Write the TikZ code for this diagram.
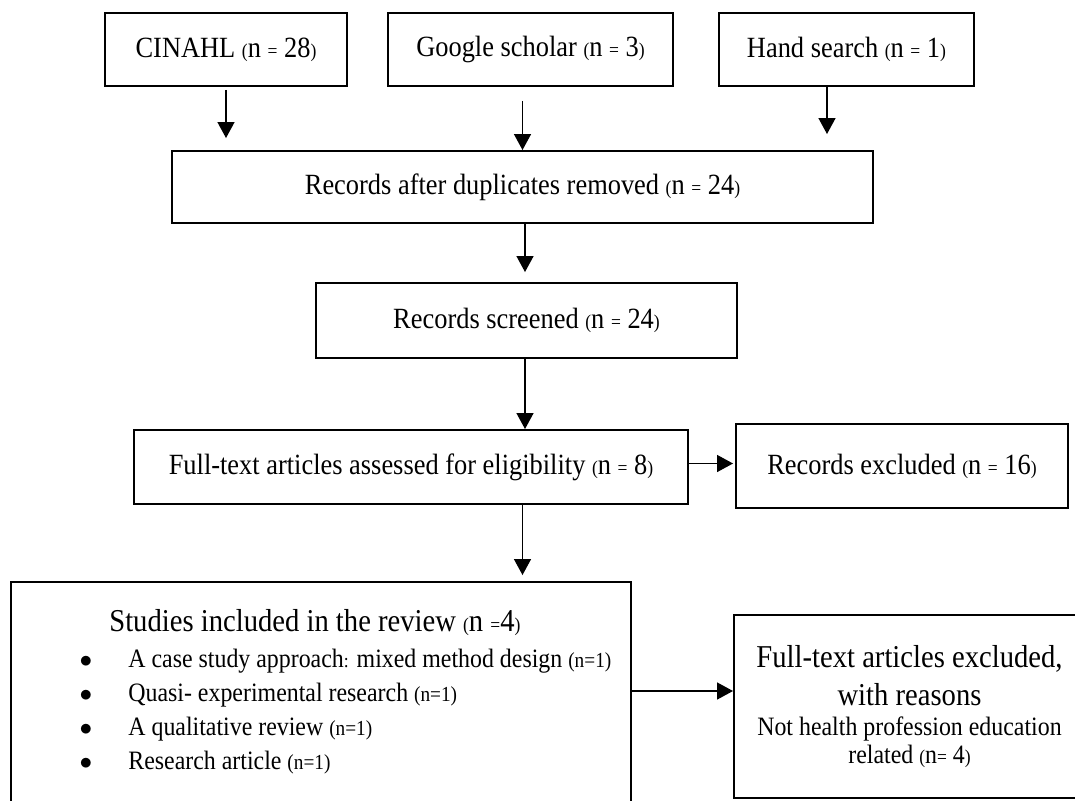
\documentclass[tikz,border=0pt]{standalone}
\usepackage{fontspec}
\setmainfont{Liberation Serif}[FakeStretch=0.9]
\usepackage{tikz}
\usetikzlibrary{positioning,calc}
\usetikzlibrary{arrows.meta}
\newcommand{\mainsz}{\fontsize{16.7}{20}\selectfont}
\newcommand{\headsz}{\fontsize{18.1}{22}\selectfont}
\newcommand{\itemsz}{\fontsize{15.1}{17}\selectfont}
\newcommand{\nsz}{\fontsize{11.1}{13}\selectfont}
\newcommand{\isz}{\fontsize{12.2}{14}\selectfont}
\tikzset{
  flowbox/.style={draw=black,line width=1.1pt,inner sep=0pt,align=center,font=\mainsz},
  flow/.style={draw=black,line width=0.8pt,-{Triangle[length=0.32cm,width=0.34cm]}},
  txt/.style={anchor=base west,inner sep=0pt},
}

\begin{document}
\begin{tikzpicture}
\useasboundingbox (0,0) rectangle (21.5,-16.02);
\clip (0,0) rectangle (21.5,-16.02);
\node[flowbox,minimum width=4.84cm,minimum height=1.46cm] (cinahl) at (4.52,-0.99) {CINAHL {\nsz(}n {\nsz=} 28{\nsz)}};
\node[flowbox,minimum width=5.70cm,minimum height=1.46cm] (google) at (10.61,-0.99) {Google scholar {\nsz(}n {\nsz=} 3{\nsz)}};
\node[flowbox,minimum width=5.10cm,minimum height=1.46cm] (hand) at (16.93,-0.99) {Hand search {\nsz(}n {\nsz=} 1{\nsz)}};
\node[flowbox,minimum width=14.02cm,minimum height=1.44cm] (dedup) at (10.45,-3.74) {Records after duplicates removed {\nsz(}n {\nsz=} 24{\nsz)}};
\node[flowbox,minimum width=8.42cm,minimum height=1.50cm] (screened) at (10.53,-6.41) {Records screened {\nsz(}n {\nsz=} 24{\nsz)}};
\node[flowbox,minimum width=11.08cm,minimum height=1.48cm] (fulltext) at (8.22,-9.34) {Full-text articles assessed for eligibility {\nsz(}n {\nsz=} 8{\nsz)}};
\node[flowbox,minimum width=6.64cm,minimum height=1.68cm] (excluded) at (18.04,-9.32) {Records excluded {\nsz(}n {\nsz=} 16{\nsz)}};
\node[flowbox,minimum width=12.40cm,minimum height=4.76cm] (studies) at (6.42,-14.02) {};
\node[flowbox,minimum width=7.02cm,minimum height=3.66cm,font=\headsz] (reasons) at (18.19,-14.13)
  {Full-text articles excluded,\\ with reasons\\[-5pt] {\itemsz Not health profession education}\\[-6pt] {\itemsz related {\nsz(}n{\nsz=} 4{\nsz)}}};
\node[txt,font=\headsz] (studyhead) at (2.18,-12.62) {Studies included in the review {\nsz(}n {\nsz=}4{\nsz)}};
\node[txt,font=\itemsz] (item1) at (2.56,-13.34) {\llap{$\bullet$\hspace{0.72cm}}A case study approach{\nsz:} mixed method design {\isz(n=1)}};
\node[txt,font=\itemsz] (item2) at (2.56,-14.02) {\llap{$\bullet$\hspace{0.72cm}}Quasi- experimental research {\isz(n=1)}};
\node[txt,font=\itemsz] (item3) at (2.56,-14.70) {\llap{$\bullet$\hspace{0.72cm}}A qualitative review {\isz(n=1)}};
\node[txt,font=\itemsz] (item4) at (2.56,-15.38) {\llap{$\bullet$\hspace{0.72cm}}Research article {\isz(n=1)}};
\coordinate (handout) at ([xshift=-0.39cm]hand.south);
\coordinate (rin) at ([yshift=0.31cm]reasons.west);
\draw[flow,shorten <=0.06cm,shorten >=0.24cm] (cinahl.south) -- (cinahl.south |- dedup.north);
\draw[flow,shorten <=0.28cm] (dedup.north |- google.south) -- (dedup.north);
\draw[flow,shorten >=0.32cm] (handout) -- (handout |- dedup.north);
\draw[flow,shorten >=0.2cm] ([xshift=0.05cm]dedup.south) -- ([xshift=0.05cm]dedup.south |- screened.north);
\draw[flow] ([xshift=-0.03cm]screened.south) -- ([xshift=-0.03cm]screened.south |- fulltext.north);
\draw[flow,shorten >=0.04cm] ([yshift=0.07cm]fulltext.east) -- ([yshift=0.07cm]fulltext.east -| excluded.west);
\draw[flow,shorten >=0.12cm] (dedup.south |- fulltext.south) -- (dedup.south |- studies.north);
\draw[flow] (studies.east |- rin) -- (rin);
\end{tikzpicture}
\end{document}
